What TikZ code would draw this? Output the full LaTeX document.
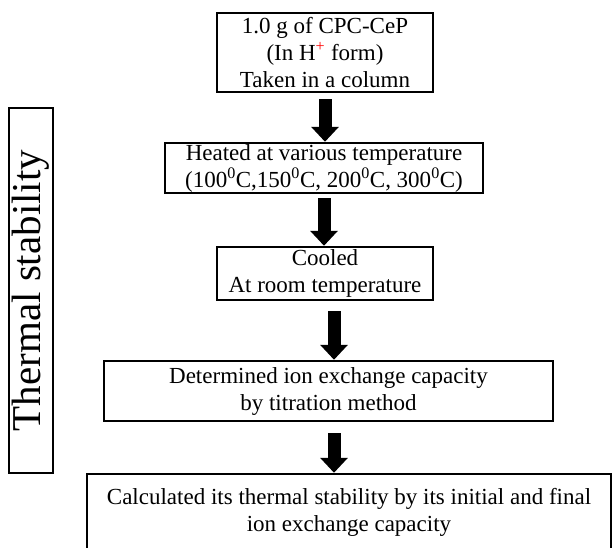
\documentclass[tikz,border=0pt]{standalone}
\usepackage{fontspec}
\setmainfont{Liberation Serif}
\usetikzlibrary{positioning,arrows.meta}

\begin{document}
\begin{tikzpicture}[
  x=1pt, y=-1pt,
  every node/.style={font=\fontsize{23}{27}\selectfont},
  stepbox/.style={draw, line width=2.5pt, align=center, inner sep=0pt},
  sidebox/.style={draw, line width=2pt, inner sep=0pt,
                  minimum width=44pt, minimum height=365pt},
  flow/.style={line width=13pt, -{Triangle[width=27pt,length=15pt]}}
]

  % --- Page frame ---
  \path[use as bounding box, clip] (0,0) rectangle (612,547);

  % --- Process steps ---
  \node[stepbox, minimum width=216pt, minimum height=79pt] (load) at (325, 52.5)
    {1.0 g of CPC-CeP\\(In H\textsuperscript{\textcolor{red}{+}} form)\\Taken in a column};
  \node[stepbox, minimum width=318pt, minimum height=50pt] (heat) at (324, 168)
    {Heated at various temperature\\(100\textsuperscript{0}C,150\textsuperscript{0}C, 200\textsuperscript{0}C, 300\textsuperscript{0}C)};
  \node[stepbox, minimum width=216pt, minimum height=53pt] (cool) at (325, 273.5)
    {Cooled\\At room temperature};
  \node[stepbox, minimum width=449pt, minimum height=60pt] (titr) at (328.5, 391)
    {Determined ion exchange capacity\\by titration method};
  \node[stepbox, minimum width=524pt, minimum height=76pt] (calc) at (349, 512)
    {Calculated its thermal stability by its initial and final\\ion exchange capacity};

  % --- Side label ---
  \node[sidebox] (side) at (31, 290.5) {};
  \node[font=\fontsize{41}{48}\selectfont, rotate=90] (sidetext) at (side.center)
    {Thermal stability};

  % --- Arrows ---
  \draw[flow] ([yshift=-6pt]load.south) -- (load.south |- heat.north);
  \draw[flow] ([yshift=-4pt]heat.south) -- (heat.south |- cool.north);
  \draw[flow] ([xshift=9pt, yshift=-10pt]cool.south)
    -- ([xshift=9pt]cool.south |- titr.north);
  \draw[flow] ([xshift=5.5pt, yshift=-11pt]titr.south)
    -- ([xshift=5.5pt]titr.south |- calc.north);

\end{tikzpicture}
\end{document}
